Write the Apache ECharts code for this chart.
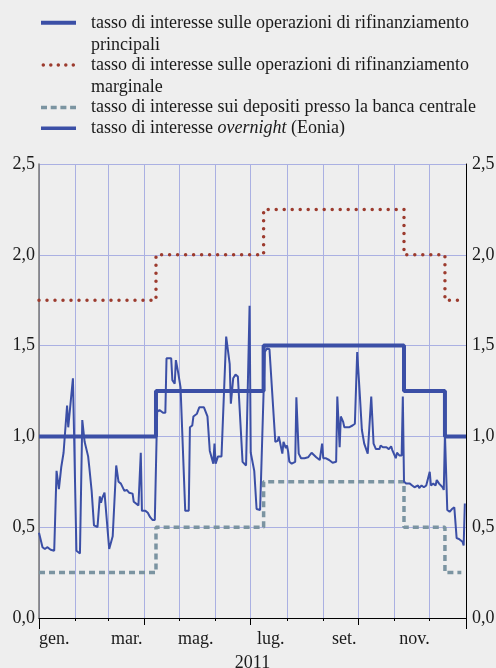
<!DOCTYPE html>
<html>
<head>
<meta charset="utf-8">
<script src="https://cdn.jsdelivr.net/npm/echarts@6.0.0/dist/echarts.min.js"></script>
<style>
  html, body { margin: 0; padding: 0; background: #eeeeee; }
  #main { width: 496px; height: 668px; }
</style>
</head>
<body>
<div id="main"></div>
<script>
// policy rates (step changes)
const refiDates = ['2011-01-01', '2011-04-11', '2011-07-12', '2011-11-09', '2011-12-14', '2012-01-01'];
const refiValues = [1.00, 1.25, 1.50, 1.25, 1.00, 1.00];
const marginalDates = ['2011-01-01', '2011-04-11', '2011-07-12', '2011-11-09', '2011-12-14', '2011-12-29'];
const marginalValues = [1.75, 2.00, 2.25, 2.00, 1.75, 1.75];
const depositDates = ['2011-01-01', '2011-04-11', '2011-07-12', '2011-11-09', '2011-12-14', '2011-12-28'];
const depositValues = [0.25, 0.50, 0.75, 0.50, 0.25, 0.25];

// Eonia
const eoniaDates = [
  '2011-01-01', '2011-01-04', '2011-01-06', '2011-01-08', '2011-01-11', '2011-01-14', '2011-01-15', '2011-01-16',
  '2011-01-18', '2011-01-19', '2011-01-20', '2011-01-22', '2011-01-25', '2011-01-26', '2011-01-30',
  '2011-02-02', '2011-02-05', '2011-02-07', '2011-02-09', '2011-02-12', '2011-02-13', '2011-02-15', '2011-02-17',
  '2011-02-20', '2011-02-22', '2011-02-23', '2011-02-24', '2011-02-26',
  '2011-03-02', '2011-03-05', '2011-03-08', '2011-03-10', '2011-03-12', '2011-03-15', '2011-03-17', '2011-03-19',
  '2011-03-22', '2011-03-23', '2011-03-27', '2011-03-29', '2011-03-30',
  '2011-04-02', '2011-04-04', '2011-04-06', '2011-04-08', '2011-04-10', '2011-04-12', '2011-04-14', '2011-04-17',
  '2011-04-19', '2011-04-20', '2011-04-24', '2011-04-25', '2011-04-27', '2011-04-28', '2011-04-30',
  '2011-05-02', '2011-05-06', '2011-05-09', '2011-05-10', '2011-05-12', '2011-05-13', '2011-05-16', '2011-05-18',
  '2011-05-22', '2011-05-25', '2011-05-27', '2011-05-30', '2011-05-31',
  '2011-06-01', '2011-06-03', '2011-06-06', '2011-06-10', '2011-06-13', '2011-06-14', '2011-06-16', '2011-06-18',
  '2011-06-20', '2011-06-24', '2011-06-27', '2011-06-28', '2011-06-30',
  '2011-07-01', '2011-07-04', '2011-07-06', '2011-07-09', '2011-07-10', '2011-07-13', '2011-07-15', '2011-07-17',
  '2011-07-22', '2011-07-24', '2011-07-25', '2011-07-28', '2011-07-29', '2011-07-31',
  '2011-08-01', '2011-08-02', '2011-08-03', '2011-08-05', '2011-08-08', '2011-08-09', '2011-08-11', '2011-08-13',
  '2011-08-16', '2011-08-19', '2011-08-22', '2011-08-26', '2011-08-29', '2011-08-30', '2011-08-31',
  '2011-09-01', '2011-09-03', '2011-09-06', '2011-09-09', '2011-09-12', '2011-09-13', '2011-09-15', '2011-09-16',
  '2011-09-18', '2011-09-19', '2011-09-20', '2011-09-23', '2011-09-26', '2011-09-28', '2011-09-29', '2011-09-30',
  '2011-10-02', '2011-10-04', '2011-10-06', '2011-10-09', '2011-10-10', '2011-10-12', '2011-10-14', '2011-10-16',
  '2011-10-19', '2011-10-20', '2011-10-22', '2011-10-25', '2011-10-27', '2011-10-29', '2011-10-30',
  '2011-11-02', '2011-11-03', '2011-11-05', '2011-11-06', '2011-11-07', '2011-11-08', '2011-11-09', '2011-11-11',
  '2011-11-14', '2011-11-16', '2011-11-18', '2011-11-21', '2011-11-22', '2011-11-24', '2011-11-26', '2011-11-28',
  '2011-12-01', '2011-12-02', '2011-12-04', '2011-12-06', '2011-12-07', '2011-12-09', '2011-12-12', '2011-12-13',
  '2011-12-14', '2011-12-16', '2011-12-18', '2011-12-20', '2011-12-22', '2011-12-24', '2011-12-26', '2011-12-29',
  '2011-12-30', '2011-12-31'
];
const eoniaValues = [
  0.47, 0.39, 0.38, 0.39, 0.376, 0.37, 0.37, 0.81,
  0.71, 0.72, 0.83, 0.91, 1.17, 1.05, 1.32,
  0.37, 0.355, 1.09, 0.97, 0.89, 0.83, 0.70, 0.51,
  0.50, 0.67, 0.635, 0.66, 0.69,
  0.38, 0.45, 0.84, 0.75, 0.74, 0.70, 0.705, 0.69,
  0.685, 0.64, 0.62, 0.91, 0.59,
  0.59, 0.58, 0.555, 0.54, 0.54, 1.135, 1.145, 1.13,
  1.13, 1.43, 1.43, 1.31, 1.29, 1.42, 1.35,
  1.27, 0.59, 0.59, 1.05, 1.06, 1.11, 1.125, 1.16,
  1.16, 1.11, 0.92, 0.85, 0.96,
  0.85, 0.89, 0.89, 1.55, 1.40, 1.18, 1.32, 1.34,
  1.33, 0.86, 0.84, 0.84, 1.72,
  0.91, 0.81, 0.60, 0.595, 0.60, 1.465, 1.485, 1.48,
  0.97, 0.975, 1.00, 0.905, 0.97, 0.935,
  0.95, 0.915, 0.86, 0.85, 0.86, 1.215, 0.905, 0.88,
  0.88, 0.885, 0.91, 0.885, 0.87, 0.87, 0.96,
  0.88, 0.88, 0.87, 0.855, 0.86, 1.22, 0.94, 1.11,
  1.08, 1.05, 1.06, 1.05, 1.06, 1.07, 1.06, 1.465,
  1.255, 1.035, 0.96, 0.905, 0.895, 1.22, 0.96, 0.93,
  0.93, 0.95, 0.94, 0.94, 0.93, 0.945, 0.925,
  0.88, 0.91, 0.895, 0.905, 0.895, 1.22, 0.75, 0.74,
  0.74, 0.73, 0.72, 0.73, 0.715, 0.73, 0.72, 0.73,
  0.805, 0.73, 0.74, 0.73, 0.76, 0.74, 0.72, 0.705,
  1.015, 0.595, 0.585, 0.60, 0.61, 0.44, 0.435, 0.42,
  0.40, 0.63
];

const labelDates = ['2011-01-14', '2011-03-17', '2011-05-15', '2011-07-18', '2011-09-19', '2011-11-18'];
const monthLabels = ['gen.', 'mar.', 'mag.', 'lug.', 'set.', 'nov.'];
const yTicks = [0, 0.5, 1, 1.5, 2, 2.5];

const seriesNames = [
  'tasso di interesse sulle operazioni di rifinanziamento\nprincipali',
  'tasso di interesse sulle operazioni di rifinanziamento\nmarginale',
  'tasso di interesse sui depositi presso la banca centrale',
  '{n|tasso di interesse }{i|overnight}{n| (Eonia)}'
];

// every calendar day of 2011 (plus 1 Jan 2012 as right edge)
const days = [];
for (let t = Date.UTC(2011, 0, 1); t <= Date.UTC(2012, 0, 1); t += 86400000) {
  days.push(new Date(t).toISOString().slice(0, 10));
}

const pairs = (xs, ys) => xs.map((x, i) => [x, ys[i]]);
const isMonthStart = (i, v) => v.slice(8) === '01';
const isQuarterStart = (i, v) => v.slice(8) === '01' && ['01', '04', '07', '10'].includes(v.slice(5, 7));
const isYearStart = (i, v) => v.slice(5) === '01-01';

const BLUE = '#3b4fa6';
const RED = '#9c3b2e';
const GREY = '#7b94a1';
const GRID = '#aab0e2';
const SERIF = '"Liberation Serif", "DejaVu Serif", serif';
const TXT = '#1a1a1a';

const chart = echarts.init(document.getElementById('main'));

const tickAxis = (fn, len) => ({
  type: 'category', data: days, boundaryGap: false, position: 'bottom',
  axisLine: { show: false }, axisLabel: { show: false }, splitLine: { show: false },
  axisTick: { show: true, interval: fn, length: len, lineStyle: { color: '#000', width: 1 } }
});

const legendY = [13, 55, 97, 118];

chart.setOption({
  animation: false,
  backgroundColor: '#eeeeee',
  grid: { left: 39, right: 30, top: 164, bottom: 50, containLabel: false, outerBoundsMode: 'none' },
  xAxis: [
    {
      type: 'category', data: days, boundaryGap: false, position: 'bottom',
      axisLine: { lineStyle: { color: '#000', width: 1 } },
      axisTick: { interval: isMonthStart, length: 3, lineStyle: { color: '#000' } },
      axisLabel: {
        interval: (i, v) => labelDates.includes(v),
        formatter: v => monthLabels[labelDates.indexOf(v)],
        fontFamily: SERIF, fontSize: 18, color: TXT, margin: 12
      },
      splitLine: { show: true, interval: isMonthStart, lineStyle: { color: GRID, width: 1 } },
      name: '2011', nameLocation: 'middle', nameGap: 36,
      nameTextStyle: { fontFamily: SERIF, fontSize: 18, color: TXT }
    },
    tickAxis(isQuarterStart, 7),
    tickAxis(isYearStart, 11)
  ],
  yAxis: [
    {
      type: 'value', min: yTicks[0], max: yTicks[yTicks.length - 1], interval: 0.5, position: 'left',
      axisLine: { show: true, lineStyle: { color: '#777', width: 1.5 } },
      axisTick: { show: false },
      axisLabel: { formatter: v => v.toFixed(1).replace('.', ','), fontFamily: SERIF, fontSize: 18, color: TXT, margin: 4 },
      splitLine: { lineStyle: { color: GRID, width: 1 } }
    },
    {
      type: 'value', min: yTicks[0], max: yTicks[yTicks.length - 1], interval: 0.5, position: 'right',
      axisLine: { show: true, lineStyle: { color: '#000', width: 1 } },
      axisTick: { show: false },
      axisLabel: { formatter: v => v.toFixed(1).replace('.', ','), fontFamily: SERIF, fontSize: 18, color: TXT, margin: 6 },
      splitLine: { show: false }
    }
  ],
  series: [
    {
      name: 'marginale', type: 'line', step: 'end', symbol: 'none', z: 2,
      data: pairs(marginalDates, marginalValues),
      lineStyle: { color: RED, width: 3.5, type: [0, 8], cap: 'round' }
    },
    {
      name: 'depositi', type: 'line', step: 'end', symbol: 'none', z: 2,
      data: pairs(depositDates, depositValues),
      lineStyle: { color: GREY, width: 3.5, type: [6, 4] }
    },
    {
      name: 'principali', type: 'line', step: 'end', symbol: 'none', z: 3,
      data: pairs(refiDates, refiValues),
      lineStyle: { color: BLUE, width: 4 }
    },
    {
      name: 'Eonia', type: 'line', symbol: 'none', z: 4,
      data: pairs(eoniaDates, eoniaValues),
      lineStyle: { color: BLUE, width: 2 }
    }
  ],
  graphic: [
    { type: 'line', shape: { x1: 41, y1: 22.7, x2: 76, y2: 22.7 }, style: { stroke: BLUE, lineWidth: 4 } },
    { type: 'line', shape: { x1: 43.3, y1: 65, x2: 76, y2: 65 }, style: { stroke: RED, lineWidth: 3.5, lineDash: [0, 7.5], lineCap: 'round' } },
    { type: 'line', shape: { x1: 41, y1: 107.5, x2: 76, y2: 107.5 }, style: { stroke: GREY, lineWidth: 3.5, lineDash: [6, 3.7] } },
    { type: 'line', shape: { x1: 41, y1: 128.3, x2: 76, y2: 128.3 }, style: { stroke: BLUE, lineWidth: 3.5 } }
  ].concat(seriesNames.map((name, i) => ({
    type: 'text', x: 91, y: legendY[i],
    style: {
      text: name, fontFamily: SERIF, fontSize: 18, fill: TXT, lineHeight: 21.3, verticalAlign: 'top',
      rich: {
        n: { fontFamily: SERIF, fontSize: 18, fill: TXT },
        i: { fontFamily: SERIF, fontSize: 18, fill: TXT, fontStyle: 'italic' }
      }
    }
  })))
});
</script>
</body>
</html>
